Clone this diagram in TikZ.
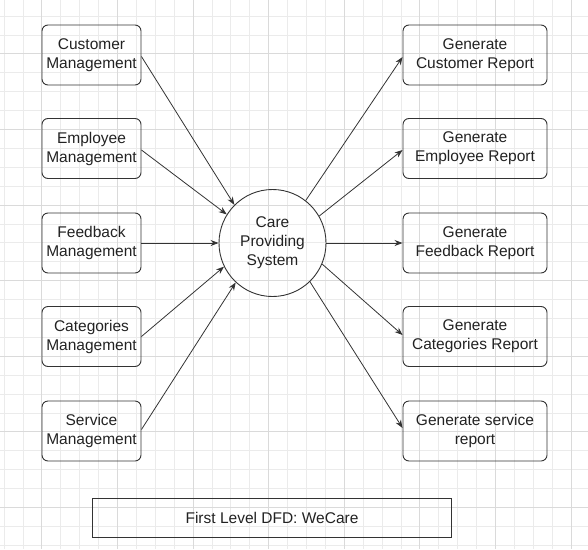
\documentclass[tikz,border=0pt]{standalone}
\usepackage{fontspec}
\setmainfont{Liberation Sans}
\usetikzlibrary{arrows.meta}
\definecolor{gridminor}{HTML}{EBEBEB}
\definecolor{gridmajor}{HTML}{DADADA}
\definecolor{edgecol}{HTML}{333333}
\definecolor{txtcol}{HTML}{222222}
\begin{document}
\begin{tikzpicture}[x=1pt,y=-1pt,
  txt/.style={font=\fontsize{15.5}{19}\selectfont, text=txtcol, align=center},
  lbox/.style={txt, draw=edgecol, rounded corners=6pt, line width=0.9pt, minimum width=99pt, minimum height=60pt, inner sep=0pt},
  rbox/.style={lbox, minimum width=144pt},
  proc/.style={txt, draw=edgecol, circle, line width=0.9pt, minimum size=107pt, inner sep=0pt},
  titlebox/.style={txt, draw=edgecol, line width=0.9pt, minimum width=359pt, minimum height=39pt, inner sep=0pt},
  arr/.style={draw=edgecol, line width=0.8pt, -{Stealth[length=8pt,width=6pt]}},
  gmin/.style={draw=gridminor, line width=0.8pt},
  gmaj/.style={draw=gridmajor, line width=0.8pt}
]
\useasboundingbox (0,0) rectangle (588,549);
\begin{scope}
\clip (0,0) rectangle (588,549);
\foreach \i in {0,...,31} \draw[gmin] ({4+18.9*\i},0) -- ({4+18.9*\i},549);
\foreach \j in {-1,...,28} \draw[gmin] (0,{16+18.9*\j}) -- (588,{16+18.9*\j});
\foreach \i in {2,6,...,30} \draw[gmaj] ({4+18.9*\i},0) -- ({4+18.9*\i},549);
\foreach \j in {2,6,...,26} \draw[gmaj] (0,{16+18.9*\j}) -- (588,{16+18.9*\j});
\end{scope}

% left boxes
\node[lbox] (cm) at (91.5,55) {Customer\\Management};
\node[lbox] (em) at (91.5,148.5) {Employee\\Management};
\node[lbox] (fm) at (91.5,243) {Feedback\\Management};
\node[lbox] (km) at (91.5,336.5) {Categories\\Management};
\node[lbox] (sm) at (91.5,431) {Service\\Management};

% central process
\node[proc] (cps) at (272.5,243) {Care\\Providing\\System};

% right boxes
\node[rbox] (gcr) at (475,55) {Generate\\Customer Report};
\node[rbox] (ger) at (475,148.5) {Generate\\Employee Report};
\node[rbox] (gfr) at (475,243) {Generate\\Feedback Report};
\node[rbox] (gkr) at (475,336.5) {Generate\\Categories Report};
\node[rbox] (gsr) at (475,431) {Generate service\\report};

% title
\node[titlebox] (title) at (272,518) {First Level DFD: WeCare};

% inputs
\draw[arr] ([yshift=-1.5pt]cm.east) -- (cps.135);
\draw[arr] ([yshift=-1.5pt]em.east) -- (cps.148);
\draw[arr] (fm.east) -- (cps.180);
\draw[arr] (km.east) -- (cps.206);
\draw[arr] ([yshift=1.5pt]sm.east) -- (cps.227);

% outputs
\draw[arr] (cps.52) -- ([yshift=-2pt]gcr.west);
\draw[arr] (cps.30) -- ([yshift=-1.5pt]ger.west);
\draw[arr] (cps.0) -- (gfr.west);
\draw[arr] (cps.-23) -- ([yshift=1.5pt]gkr.west);
\draw[arr] (cps.-46) -- ([yshift=3pt]gsr.west);
\end{tikzpicture}
\end{document}
